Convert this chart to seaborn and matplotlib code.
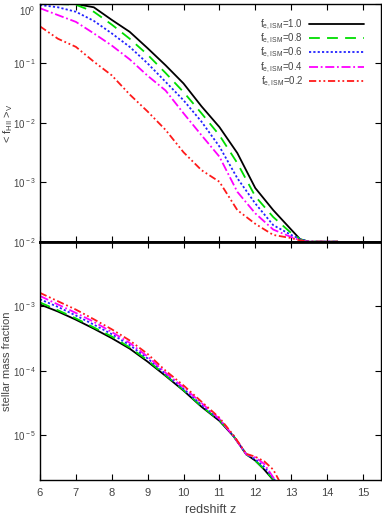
import numpy as np
import pandas as pd
import matplotlib
matplotlib.use("Agg")
import matplotlib.pyplot as plt
import matplotlib.ticker as mticker
import seaborn as sns

# ionized fraction (top panel)
z_top = [6, 6.5, 7, 7.5, 8, 8.5, 9, 9.5, 10, 10.5, 11, 11.5, 12, 12.5, 13, 13.25, 13.5, 14, 14.3]
fhii_10 = [1.0, 1.0, 1.0, 0.88, 0.54, 0.34, 0.18, 0.093, 0.046, 0.019, 0.0085, 0.0031, 8.0e-4, 3.4e-4, 1.6e-4, 1.1e-4, 1e-4, 1e-4, 1e-4]
fhii_08 = [1.0, 1.0, 0.97, 0.74, 0.45, 0.26, 0.14, 0.069, 0.033, 0.0145, 0.0062, 0.0021, 5.8e-4, 2.6e-4, 1.4e-4, 1.1e-4, 1e-4, 1e-4, 1e-4]
fhii_06 = [0.96, 0.88, 0.74, 0.52, 0.32, 0.19, 0.10, 0.049, 0.024, 0.0105, 0.0040, 0.00117, 4.4e-4, 1.9e-4, 1.3e-4, 1.1e-4, 1e-4, 1e-4, 1e-4]
fhii_04 = [0.85, 0.65, 0.50, 0.32, 0.20, 0.117, 0.062, 0.035, 0.0145, 0.0062, 0.0027, 6.9e-4, 3.0e-4, 1.6e-4, 1.2e-4, 1.05e-4, 1e-4, 1e-4, 1e-4]
fhii_02 = [0.42, 0.26, 0.19, 0.107, 0.063, 0.030, 0.0155, 0.0076, 0.0032, 0.0016, 0.00102, 3.4e-4, 2.0e-4, 1.3e-4, 1.15e-4, 1.05e-4, 1e-4, 1e-4, 1e-4]

# stellar mass fraction (bottom panel)
z_bot = [6, 6.5, 7, 7.5, 8, 8.5, 9, 9.5, 10, 10.5, 11, 11.4, 11.75, 12, 12.25, 12.5, 12.75, 13]
mstar_10 = [1.07e-3, 8.3e-4, 6.2e-4, 4.5e-4, 3.2e-4, 2.2e-4, 1.38e-4, 8.3e-5, 4.9e-5, 2.75e-5, 1.66e-5, 9.5e-6, 5.0e-6, 4.0e-6, 2.9e-6, 2.0e-6, 1.3e-6, 8.9e-7]
mstar_08 = [1.15e-3, 8.7e-4, 6.5e-4, 4.7e-4, 3.4e-4, 2.3e-4, 1.45e-4, 8.5e-5, 5.0e-5, 2.8e-5, 1.7e-5, 9.5e-6, 5.0e-6, 4.0e-6, 2.95e-6, 2.05e-6, 1.35e-6, 8.9e-7]
mstar_06 = [1.29e-3, 9.8e-4, 7.2e-4, 5.2e-4, 3.7e-4, 2.5e-4, 1.55e-4, 8.9e-5, 5.2e-5, 2.95e-5, 1.74e-5, 9.5e-6, 5.0e-6, 4.2e-6, 3.2e-6, 2.15e-6, 1.4e-6, 8.9e-7]
mstar_04 = [1.45e-3, 1.07e-3, 7.9e-4, 5.75e-4, 4.0e-4, 2.7e-4, 1.66e-4, 9.3e-5, 5.5e-5, 3.15e-5, 1.78e-5, 9.5e-6, 5.0e-6, 4.5e-6, 3.55e-6, 2.2e-6, 1.4e-6, 8.9e-7]
mstar_02 = [1.62e-3, 1.2e-3, 8.9e-4, 6.3e-4, 4.4e-4, 2.95e-4, 1.82e-4, 1.0e-4, 5.9e-5, 3.3e-5, 1.86e-5, 9.8e-6, 5.1e-6, 4.6e-6, 3.9e-6, 2.9e-6, 1.6e-6, 8.9e-7]

labels = [r"f$_{\rm e,ISM}$=1.0", r"f$_{\rm e,ISM}$=0.8", r"f$_{\rm e,ISM}$=0.6",
          r"f$_{\rm e,ISM}$=0.4", r"f$_{\rm e,ISM}$=0.2"]
colors = ["#000000", "#00dd00", "#2222ff", "#ff00ff", "#ff1a1a"]
dashes = [(None, None), (6, 4), (1.2, 1.2), (5, 1.5, 1, 1.5), (4, 1.5, 1, 1.5, 1, 1.5)]
top_series = [fhii_10, fhii_08, fhii_06, fhii_04, fhii_02]
bot_series = [mstar_10, mstar_08, mstar_06, mstar_04, mstar_02]

sns.set_style("ticks")
plt.rcParams['font.family'] = ['Liberation Sans', 'DejaVu Sans']
plt.rcParams['mathtext.fontset'] = 'custom'
plt.rcParams['mathtext.rm'] = 'Liberation Sans'
plt.rcParams['mathtext.it'] = 'Liberation Sans'
txt = "#444444"


def decade(v, pos):
    # gnuplot-like 10^n label
    return r"10$^{\rm %d}$" % int(round(np.log10(v)))


fig = plt.figure(figsize=(3.82, 5.17), dpi=100)
ax1 = fig.add_axes([0.1047, 0.5325, 0.8923, 0.4598])
ax2 = fig.add_axes([0.1047, 0.0716, 0.8923, 0.4603])

for lab, col, ds, yv in zip(labels, colors, dashes, top_series):
    df = pd.DataFrame({"z": z_top, "f": yv})
    sns.lineplot(data=df, x="z", y="f", ax=ax1, color=col, lw=1.3, label=lab)
    if ds[0] is not None:
        ax1.lines[-1].set_dashes(ds)
for col, ds, yv in zip(colors, dashes, bot_series):
    df = pd.DataFrame({"z": z_bot, "m": yv})
    sns.lineplot(data=df, x="z", y="m", ax=ax2, color=col, lw=1.3)
    if ds[0] is not None:
        ax2.lines[-1].set_dashes(ds)

for ax in (ax1, ax2):
    ax.set_yscale("log")
    ax.set_xlim(6, 15.5)
    ax.xaxis.set_major_locator(mticker.MultipleLocator(1))
    ax.yaxis.set_minor_locator(mticker.NullLocator())
    ax.tick_params(direction="in", top=True, right=True, length=4, width=0.8,
                   labelsize=7, colors="black", labelcolor=txt)
    ax.tick_params(axis="y", pad=3)
    ax.tick_params(axis="x", pad=6, labelsize=8)
    for s in ax.spines.values():
        s.set_color("black")
        s.set_linewidth(1.0)

ax1.set_ylim(1e-4, 1.0)
ax1.set_yticks([1e-3, 1e-2, 1e-1, 1.0])
ax1.yaxis.set_major_formatter(mticker.FuncFormatter(decade))
ax1.tick_params(labelbottom=False)
ax1.spines["bottom"].set_linewidth(2.0)
ax1.set_xlabel("")
ax1.set_ylabel(r"< f$_{\rm HII}$ >$_{\rm V}$", fontsize=8, color=txt)
# keep the top tick label inside the figure
for lbl in ax1.get_yticklabels():
    if lbl.get_position()[1] == 1.0:
        lbl.set_va("top")

ax2.set_ylim(2e-6, 1e-2)
ax2.set_yticks([1e-5, 1e-4, 1e-3, 1e-2])
ax2.yaxis.set_major_formatter(mticker.FuncFormatter(decade))
ax2.spines["top"].set_linewidth(2.0)
ax2.set_xlabel("redshift z", fontsize=9, color=txt, labelpad=4)
ax2.set_ylabel("stellar mass fraction", fontsize=8, color=txt)

ax1.yaxis.set_label_coords(-0.073, 0.5)
ax2.yaxis.set_label_coords(-0.082, 0.5)

leg = ax1.legend(loc="upper right", bbox_to_anchor=(0.975, 0.98), frameon=False,
                 markerfirst=False, handlelength=5.6, fontsize=7,
                 labelspacing=0.0, handletextpad=0.6)
for t in leg.get_texts():
    t.set_color(txt)

fig.savefig("out.png", dpi=100)
